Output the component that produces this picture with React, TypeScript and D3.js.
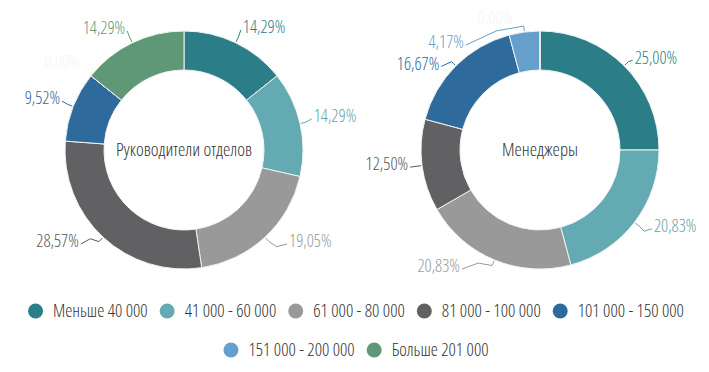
import React, { useEffect, useRef } from "react";
import * as d3 from "d3";

// salary ranges (rub.)
const categories = [
  "Меньше 40 000",
  "41 000 - 60 000",
  "61 000 - 80 000",
  "81 000 - 100 000",
  "101 000 - 150 000",
  "151 000 - 200 000",
  "Больше 201 000",
];
const colors = ["#2b7e87", "#64aab2", "#999999", "#616163", "#2e6a9b", "#65a0cc", "#5f9876"];
const labelColors = ["#2b7e87", "#5fa5ad", "#999999", "#58585a", "#2e6a9b", "#65a0cc", "#5f9876"];

const headsTitle = "Руководители отделов";
const headsValues = [14.29, 14.29, 19.05, 28.57, 9.52, 0, 14.29];

const managersTitle = "Менеджеры";
const managersValues = [25.0, 20.83, 20.83, 12.5, 16.67, 4.17, 0];

// label nudges so labels don't collide (layout only)
const headsNudge = [[0, -5], [0, -5], [14, -5], [-14, -5], [0, -4], [0, -6], [0, -4]];
const managersNudge = [[0, 0], [8, -4], [-28, -5], [0, -3], [-6, 6], [-57, 22], [-25, -1]];

const FONT = "'Open Sans', 'DejaVu Sans Condensed', sans-serif";
const W = 709, H = 372;

const fmt = (v: number) => v.toFixed(2).replace(".", ",") + "%";

export default function App() {
  const ref = useRef<SVGSVGElement>(null);

  useEffect(() => {
    const svg = d3.select(ref.current);
    svg.selectAll("*").remove();
    svg.style("font-stretch", "75%").style("font-weight", 350);

    const outerR = 119, innerR = 80;
    const pie = d3.pie<number>().sort(null).value((d) => d);
    const arc = d3.arc<d3.PieArcDatum<number>>().innerRadius(innerR).outerRadius(outerR);

    const drawDonut = (cx: number, cy: number, values: number[], title: string, nudge: number[][]) => {
      const g = svg.append("g").attr("transform", `translate(${cx},${cy})`);
      const arcs = pie(values);

      g.selectAll("path.slice")
        .data(arcs)
        .enter()
        .append("path")
        .attr("class", "slice")
        .attr("d", arc)
        .attr("fill", (d, i) => colors[i])
        .attr("stroke", "#f2f2f2")
        .attr("stroke-width", 1);

      arcs.forEach((d, i) => {
        const mid = (d.startAngle + d.endAngle) / 2;
        const zero = d.value === 0;
        const right = Math.sin(mid) > 0.001;
        const pt = (r: number) => [Math.sin(mid) * r, -Math.cos(mid) * r];
        const a = pt(outerR + 12);
        const tx = a[0] + (right ? 2 : -2) + nudge[i][0];
        const ty = a[1] + nudge[i][1];
        const col = zero ? "#f2f5f7" : labelColors[i];

        if (!zero) {
          const p0 = pt(outerR + 1);
          const p1 = pt(outerR + 6);
          const end = [tx + (right ? -2 : 2), ty + 3];
          const pts = [p0, p1];
          const dx = end[0] - p1[0], dy = end[1] - p1[1];
          const len = Math.hypot(dx, dy);
          if (len > 12) {
            // small zigzag on long connectors
            const nx = -dy / len, ny = dx / len;
            const m = [p1[0] + dx * 0.45 + nx * 4, p1[1] + dy * 0.45 + ny * 4];
            pts.push(m);
          }
          pts.push(end);
          g.append("path")
            .attr("d", d3.line()(pts as [number, number][]))
            .attr("fill", "none")
            .attr("stroke", labelColors[i])
            .attr("stroke-width", 1);
        }

        g.append("text")
          .attr("x", tx)
          .attr("y", ty)
          .attr("dy", "0.35em")
          .attr("text-anchor", right ? "start" : "end")
          .attr("font-family", FONT)
          .attr("font-size", 17.5)
          .attr("fill", col)
          .text(fmt(d.value));
      });

      g.append("text")
        .attr("x", 0)
        .attr("y", 0)
        .attr("dy", "0.35em")
        .attr("text-anchor", "middle")
        .attr("font-family", FONT)
        .attr("font-size", 18.5)
        .attr("fill", "#333333")
        .text(title);
    };

    drawDonut(184, 150, headsValues, headsTitle, headsNudge);
    drawDonut(540, 150, managersValues, managersTitle, managersNudge);

    // legend, wrapped into centered rows
    const legend = svg.append("g");
    const items = categories.map((c, i) => {
      const gi = legend.append("g");
      gi.append("circle").attr("r", 7.5).attr("cx", 7.5).attr("cy", 0).attr("fill", colors[i]);
      const t = gi.append("text")
        .attr("x", 25)
        .attr("dy", "0.35em")
        .attr("font-family", FONT)
        .attr("font-size", 18)
        .attr("fill", "#333333")
        .text(c);
      const w = 25 + (t.node() as SVGTextElement).getComputedTextLength();
      return { gi, w };
    });
    const gap = 12, maxW = 690, rowH = 39, centerX = 356;
    const rows: { gi: any; w: number }[][] = [[]];
    let cur = 0;
    items.forEach((it) => {
      if (cur + it.w > maxW && rows[rows.length - 1].length) {
        rows.push([]);
        cur = 0;
      }
      rows[rows.length - 1].push(it);
      cur += it.w + gap;
    });
    rows.forEach((row, r) => {
      const total = row.reduce((s, it) => s + it.w, 0) + gap * (row.length - 1);
      let x = centerX - total / 2;
      row.forEach((it) => {
        it.gi.attr("transform", `translate(${x},${311 + r * rowH})`);
        x += it.w + gap;
      });
    });
  }, []);

  return <svg ref={ref} width={W} height={H} style={{ display: "block", margin: "-8px" }} />;
}
